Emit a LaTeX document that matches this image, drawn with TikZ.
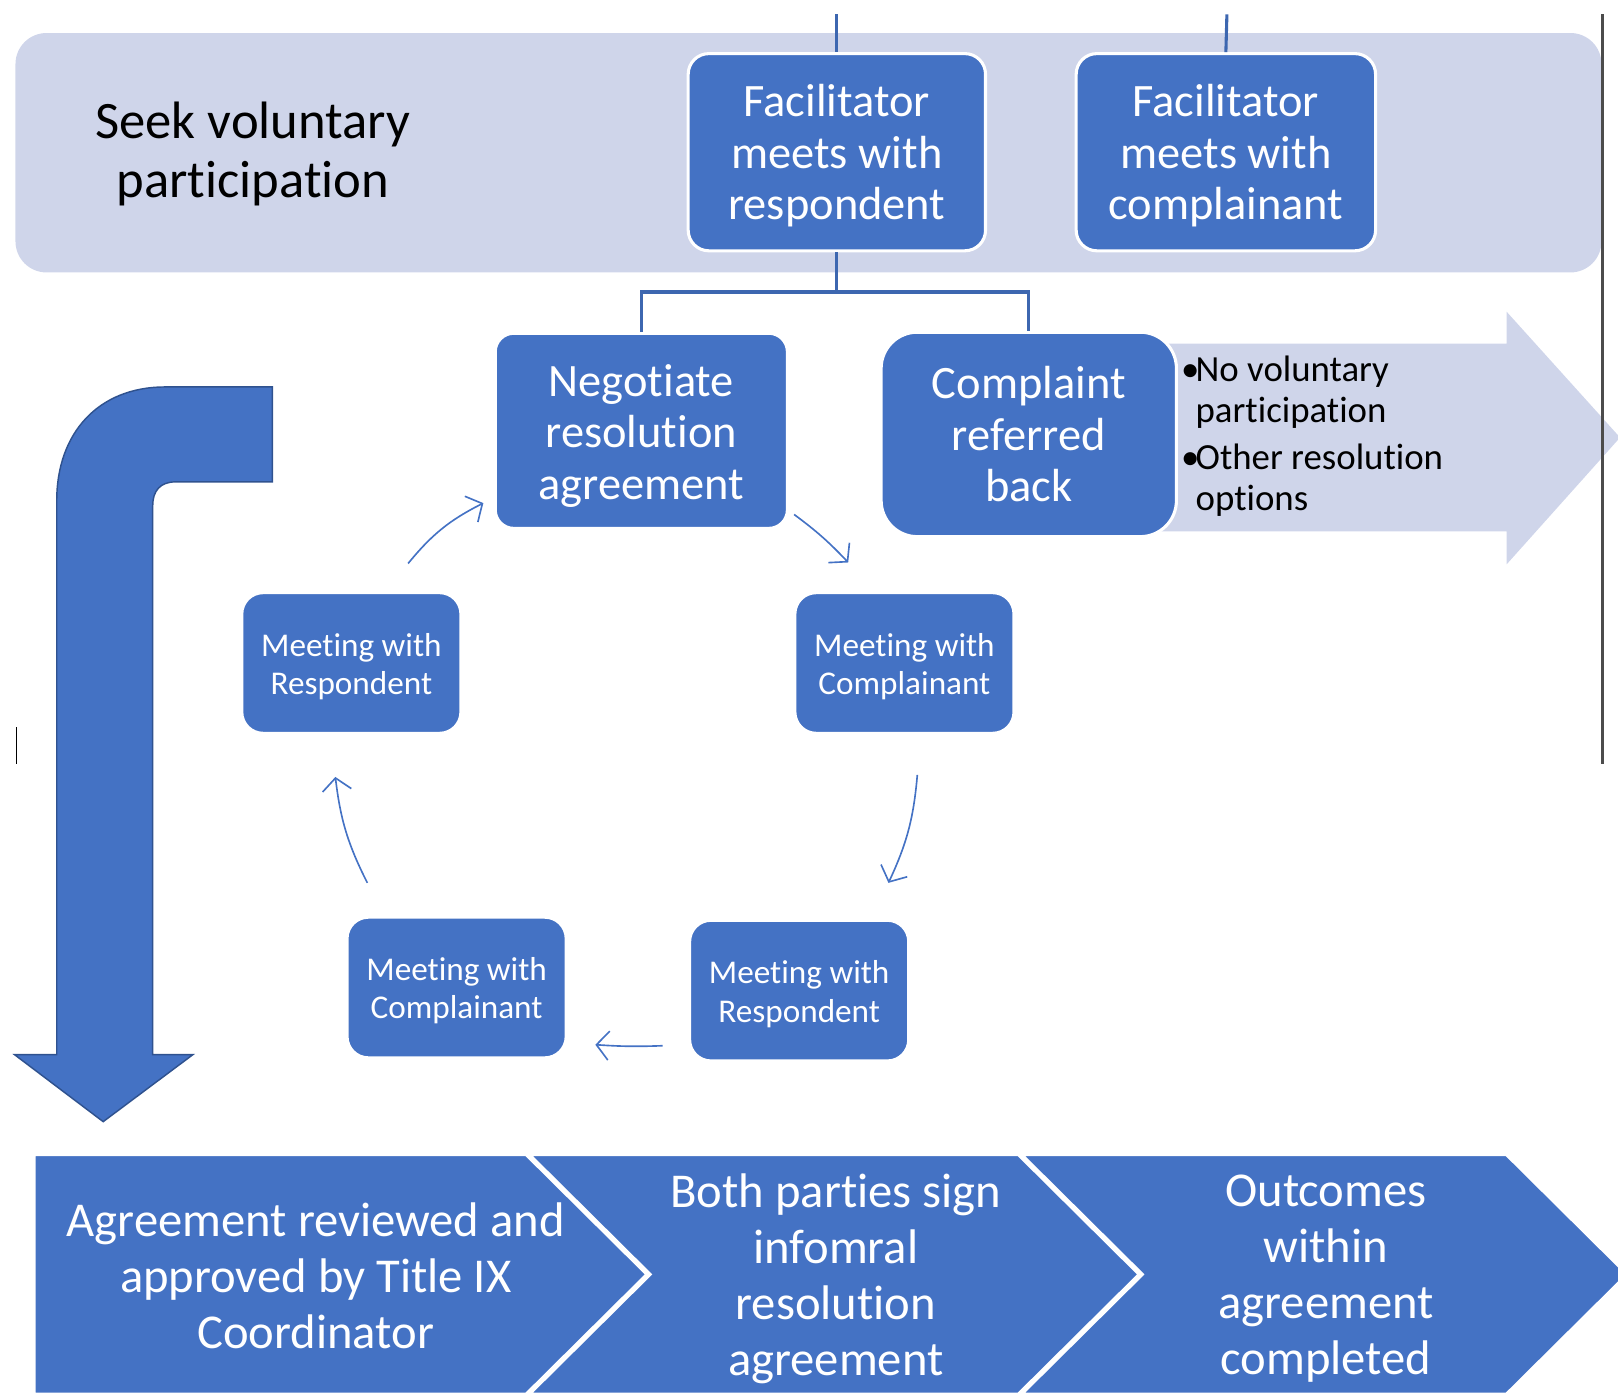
\documentclass[tikz,border=0pt]{standalone}
\usepackage{fontspec}
\setmainfont{Carlito}[Ligatures={NoCommon,NoContextual}]
\usetikzlibrary{arrows.meta,calc}
\definecolor{obl}{HTML}{4472C4}
\definecolor{lav}{HTML}{CFD5EA}
\definecolor{obd}{HTML}{2F528F}
\newcommand{\mystrut}[1]{\rule{0pt}{#1}}
\begin{document}
\begin{tikzpicture}[x=0.01cm,y=-0.01cm,
  bigbox/.style={rectangle, rounded corners=0.2cm, fill=obl, draw=white, line width=0.85pt,
    text=white, align=center, inner sep=0pt, font=\fontsize{12.8}{14.2}\selectfont},
  smallbox/.style={rectangle, rounded corners=0.2cm, fill=obl, draw=white, line width=0.5pt,
    text=white, align=center, inner sep=0pt, minimum width=2.11cm, minimum height=1.35cm,
    font=\fontsize{9.15}{10.5}\selectfont},
  cyc/.style={draw=obl, line width=0.45pt, -{Straight Barb[length=1.2mm,width=2.8mm]}},
  tree/.style={draw=obl!90!black, line width=0.85pt},
  chev/.style={fill=obl, draw=white, line width=0.85pt},
  chevtext/.style={text=white, align=center, inner sep=0pt, font=\fontsize{13.4}{15.4}\selectfont}]
\useasboundingbox (0,0) rectangle (1568,1351);

% background band
\fill[lav, rounded corners=0.3cm] (15,32) rectangle (1552,264);
\node[font=\fontsize{14.5}{16.2}\selectfont, align=center] (seek) at (245,149) {Seek voluntary\\participation};

% light arrow
\fill[lav] (1125,333) -- (1460,333) -- (1460,302) -- (1570,424) -- (1460,547) -- (1460,515) -- (1125,515) -- cycle;

% bent arrow
\draw[fill=obl, draw=obd, line width=0.4pt]
  (264,375) -- (160,375) .. controls (95,375) and (55,420) .. (55,485) -- (55,1022) -- (14,1022)
  -- (100,1087) -- (187,1022) -- (148,1022) -- (148,490)
  .. controls (148,476) and (155,467) .. (170,467) -- (264,467) -- cycle;

% top nodes
\node[bigbox, minimum width=2.88cm, minimum height=1.91cm] (fr) at (811,147.5) {\mystrut{10.8pt}Facilitator\\meets with\\respondent};
\node[bigbox, minimum width=2.90cm, minimum height=1.91cm] (fc) at (1188,147.5) {\mystrut{10.8pt}Facilitator\\meets with\\complainant};

\coordinate (frtop) at (811,14);
\coordinate (fctop) at (1189,14);
\draw[tree] (frtop) -- (fr.north);
\draw[tree] (fctop) -- (fc.north);

\node[bigbox, rounded corners=0.18cm, minimum width=2.83cm, minimum height=1.89cm] (neg) at (621.5,417.5) {\mystrut{11.6pt}Negotiate\\resolution\\agreement};
\node[bigbox, rounded corners=0.35cm, minimum width=2.86cm, minimum height=1.98cm] (crb) at (997,421) {Complaint\\referred\\back};

\coordinate (j) at (811,283);
\draw[tree] (fr.south) -- (j);
\draw[tree] (neg.north) |- (j) -| (crb.north);

% options text
\node[anchor=north west, align=left, inner sep=0pt, font=\fontsize{10.15}{11.4}\selectfont] (opts) at (1144,344)
  {\makebox[0.14cm][l]{\textbullet}No voluntary\\\hspace*{0.14cm}participation\\[0.05cm]\makebox[0.14cm][l]{\textbullet}Other resolution\\\hspace*{0.14cm}options};

% cycle nodes
\node[smallbox] (mr1) at (340.5,642.5) {\mystrut{8.3pt}Meeting with\\Respondent};
\node[smallbox] (mc1) at (876.5,642.5) {\mystrut{8.3pt}Meeting with\\Complainant};
\node[smallbox] (mr2) at (774.5,960) {\mystrut{8.3pt}Meeting with\\Respondent};
\node[smallbox] (mc2) at (442.5,957) {\mystrut{8.3pt}Meeting with\\Complainant};

\draw[cyc] ([shift={(55,-28)}]mr1.north) to[bend left=12] ([shift={(-10,-26)}]neg.south west);
\draw[cyc] ([shift={(5,-15)}]neg.south east) to[bend left=5] ([shift={(-54.5,-29)}]mc1.north);
\draw[cyc] ([shift={(12.5,40)}]mc1.south) to[bend left=10] ([shift={(86.5,-36)}]mr2.north);
\draw[cyc] ([shift={(-26,-15)}]mr2.south west) to[bend left=3] ([shift={(28,-13)}]mc2.south east);
\draw[cyc] ([shift={(-86.5,-33)}]mc2.north) to[bend left=10] ([shift={(-15.5,42)}]mr1.south);

% right gray line and cursor mark
\coordinate (g1) at (1553,14);
\coordinate (g2) at (1553,740);
\draw[gray!60!black, line width=0.6pt] (g1) -- (g2);
\coordinate (c1) at (16,705);
\coordinate (c2) at (16,740);
\draw[black, line width=0.5pt] (c1) -- (c2);

% chevrons
\draw[chev] (33,1119) -- (510,1119) -- (627,1235) -- (510,1351) -- (33,1351) -- cycle;
\draw[chev] (513,1119) -- (987,1119) -- (1104,1235) -- (987,1351) -- (513,1351) -- (630,1235) -- cycle;
\draw[chev] (990,1119) -- (1460,1119) -- (1577,1235) -- (1460,1351) -- (990,1351) -- (1107,1235) -- cycle;

\node[chevtext] (ch1) at (306,1236) {Agreement reviewed and\\approved by Title IX\\Coordinator};
\node[chevtext] (ch2) at (810,1239) {Both parties sign\\infomral\\resolution\\agreement};
\node[chevtext] (ch3) at (1285,1239) {Outcomes\\within\\agreement\\completed};
\end{tikzpicture}
\end{document}
